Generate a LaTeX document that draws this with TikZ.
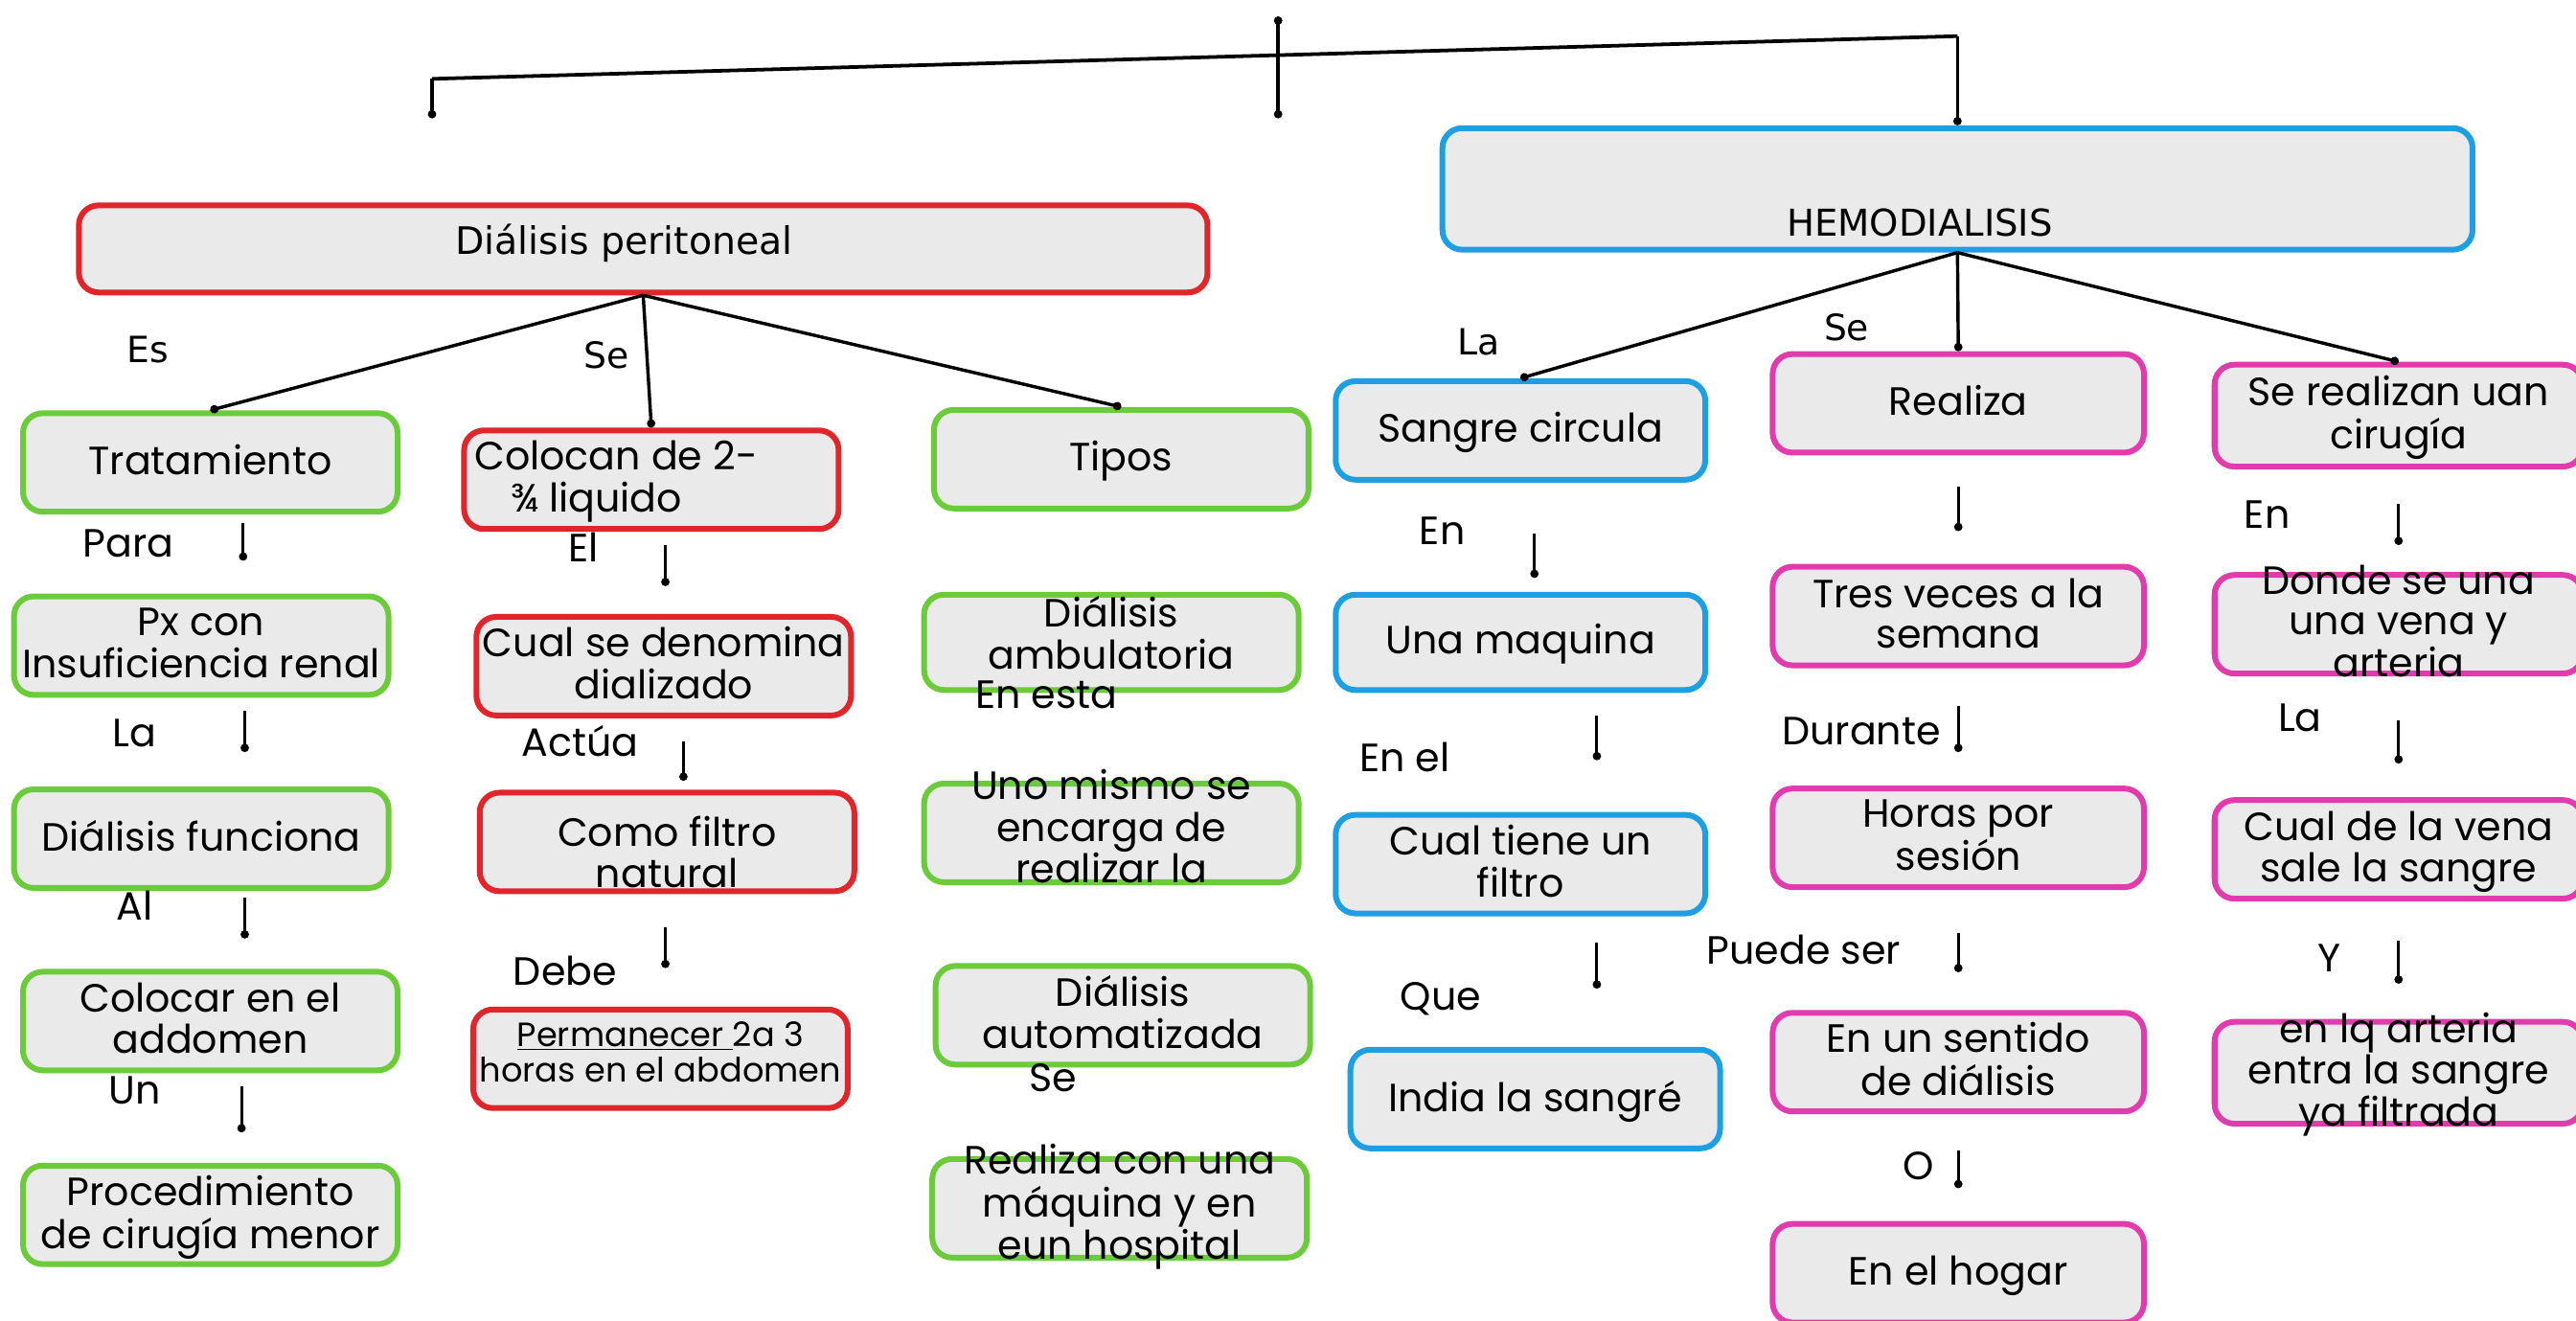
\documentclass[tikz,border=0pt]{standalone}
\usepackage{fontspec}
\setmainfont{Poppins}
\newfontfamily\dvs{DejaVu Sans}
\usetikzlibrary{arrows.meta,calc}
\definecolor{cgreen}{HTML}{6CCB3A}
\definecolor{cred}{HTML}{E0262B}
\definecolor{cblue}{HTML}{1E9FE2}
\definecolor{cpink}{HTML}{E03CAE}
\definecolor{boxfill}{HTML}{EAEAEA}
\newcommand\boxtxt[2][0pt]{\makebox[0pt]{\raisebox{\dimexpr-8pt-#1\relax}[0pt][0pt]{\begin{tabular}{@{}c@{}}#2\end{tabular}}}}
\tikzset{
  box/.style={draw, rounded corners=12pt, fill=boxfill, line width=3.5pt,
    inner sep=0pt, align=center, minimum height=60pt,
    font=\fontsize{24}{24.5}\selectfont},
  gbox/.style={box, draw=cgreen, minimum width=228pt},
  rbox/.style={box, draw=cred, minimum width=228pt},
  bbox/.style={box, draw=cblue, minimum width=225pt},
  pbox/.style={box, draw=cpink, minimum width=226pt},
  conn/.style={line width=2pt, -{Circle[length=5pt,width=5pt]}},
  vconn/.style={line width=1.8pt, -{Circle[length=5pt,width=5pt]}},
  plain/.style={line width=2.2pt},
  lbl/.style={inner sep=0pt, font=\fontsize{24}{24}\selectfont},
  dlbl/.style={inner sep=0pt, font=\dvs\fontsize{22}{24}\selectfont},
}
\begin{document}
\begin{tikzpicture}[x=1pt,y=-1pt]
\useasboundingbox[fill=white] (0,0) rectangle (1568,804);

% main boxes
\node[box, draw=cred, minimum width=687pt, minimum height=53pt, font=\dvs\fontsize{23}{26}\selectfont]
  (dp) at (391.5,151.5) {\boxtxt[-4pt]{Diálisis peritoneal\hspace*{23pt}}};
\node[box, draw=cblue, minimum width=627pt, text height=57pt, text depth=15pt, minimum height=74pt,
  font=\dvs\fontsize{22.5}{24}\selectfont]
  (hemo) at (1191.5,115) {\boxtxt{HEMODIALISIS\hspace*{46pt}}};

% left green column
\node[gbox] (trat) at (128,281.5) {\boxtxt{Tratamiento}};
\node[gbox] (px) at (122.5,393) {\boxtxt{Px con\\Insuficiencia renal}};
\node[gbox] (func) at (122.5,510.5) {\boxtxt{Diálisis funciona}};
\node[gbox] (colocar) at (128,621.5) {\boxtxt{Colocar en el\\addomen}};
\node[gbox] (proc) at (128,739.5) {\boxtxt{Procedimiento\\de cirugía menor}};

% red column
\node[rbox] (colocan) at (396.5,292)
  {\makebox[0pt]{\raisebox{-8pt}[0pt][0pt]{\begin{tabular}{@{}l@{}}Colocan de 2-\\\hspace*{22pt}¾ liquido\end{tabular}}\hspace*{43pt}}};
\node[rbox] (cual) at (404,405.5) {\boxtxt{Cual se denomina\\dializado}};
\node[rbox] (filtro) at (406,512.5) {\boxtxt[8pt]{Como filtro\\natural}};
\node[rbox, font=\fontsize{20.5}{20}\selectfont] (perm) at (402,644.5)
  {\boxtxt[-4pt]{\underline{Permanecer }2a 3\\horas en el abdomen}};

% green tipos column
\node[gbox] (tipos) at (682.5,279.5) {\boxtxt{Tipos}};
\node[gbox, minimum height=58pt] (amb) at (676.5,391) {\boxtxt[-4pt]{Diálisis\\ambulatoria}};
\node[gbox] (uno) at (676.5,507) {\boxtxt[-2pt]{Uno mismo se\\encarga de\\realizar la}};
\node[gbox] (auto) at (683.5,618) {\boxtxt{Diálisis\\automatizada}};
\node[gbox] (maq) at (681.5,735.5) {\boxtxt[-2pt]{Realiza con una\\máquina y en\\eun hospital}};

% blue column
\node[bbox] (sangre) at (925.5,262) {\boxtxt{Sangre circula}};
\node[bbox, minimum height=58pt] (una) at (925.5,391) {\boxtxt{Una maquina}};
\node[bbox] (cualtiene) at (925.5,526) {\boxtxt{Cual tiene un\\filtro}};
\node[bbox] (india) at (934.5,669) {\boxtxt{India la sangré}};

% pink column
\node[pbox] (realiza) at (1192,245.5) {\boxtxt{Realiza}};
\node[pbox] (tres) at (1192,375) {\boxtxt{Tres veces a la\\semana}};
\node[pbox] (horas) at (1192,510) {\boxtxt{Horas por\\sesión}};
\node[pbox] (sentido) at (1192,646.5) {\boxtxt{En un sentido\\de diálisis}};
\node[pbox] (hogar) at (1192,775) {\boxtxt{En el hogar}};

% right pink column
\node[pbox, minimum width=224pt, minimum height=62pt] (serealizan) at (1460,253) {\boxtxt{Se realizan uan\\cirugía}};
\node[pbox, minimum width=224pt] (donde) at (1460,380) {\boxtxt{Donde se una\\una vena y\\arteria}};
\node[pbox, minimum width=224pt] (cualvena) at (1460,517) {\boxtxt{Cual de la vena\\sale la sangre}};
\node[pbox, minimum width=224pt, minimum height=62pt] (arteria) at (1460,653) {\boxtxt{en lq arteria\\entra la sangre\\ya filtrada}};

% top connectors
\coordinate (tickT) at (778,10);
\coordinate (tickB) at (778,72);
\coordinate (lcorner) at (263,48);
\coordinate (lend) at (263,72);
\coordinate (rtop) at (1191.5,22);
\draw[plain, {Circle[length=5pt,width=5pt]}-{Circle[length=5pt,width=5pt]}] (tickT) -- (tickB);
\draw[plain] (lcorner) -- (rtop);
\draw[conn] (lcorner) -- (lend);
\draw[conn] (rtop) -- (hemo.north);

% branches
\draw[conn] (dp.south) -- (trat.north);
\draw[conn] (dp.south) -- (colocan.north);
\draw[conn] (dp.south) -- (tipos.north);
\draw[conn] (hemo.south) -- (sangre.north);
\draw[conn] (hemo.south) -- (realiza.north);
\draw[conn] (hemo.south) -- (serealizan.north);

% short vertical arrows
\draw[vconn] ($(trat.south)+(20,5)$) -- ++(0,23);
\draw[vconn] ($(px.south)+(26.5,8)$) -- ++(0,25);
\draw[vconn] ($(func.south)+(26.5,4)$) -- ++(0,25);
\draw[vconn] ($(colocar.south)+(19,8)$) -- ++(0,28);
\draw[vconn] ($(colocan.south)+(8.5,8)$) -- ++(0,25);
\draw[vconn] ($(cual.south)+(12,14)$) -- ++(0,24);
\draw[vconn] ($(filtro.south)+(-1,20)$) -- ++(0,25);
\draw[vconn] ($(sangre.south)+(8.5,31)$) -- ++(0,27);
\draw[vconn] ($(una.south)+(46.5,14)$) -- ++(0,27);
\draw[vconn] ($(cualtiene.south)+(46.5,16)$) -- ++(0,28);
\draw[vconn] ($(realiza.south)+(0,19)$) -- ++(0,27);
\draw[vconn] ($(tres.south)+(0,23)$) -- ++(0,28);
\draw[vconn] ($(horas.south)+(0,26)$) -- ++(0,24);
\draw[vconn] ($(sentido.south)+(0,22)$) -- ++(0,23);
\draw[vconn] ($(serealizan.south)+(0,21)$) -- ++(0,25);
\draw[vconn] ($(donde.south)+(0,27)$) -- ++(0,26);
\draw[vconn] ($(cualvena.south)+(0,24)$) -- ++(0,26);

% labels
\node[dlbl] (lEs) at (90,213) {Es};
\node[dlbl] (lSe1) at (369,216) {Se};
\node[dlbl] (lLa1) at (900,208) {La};
\node[dlbl] (lSe2) at (1124,199) {Se};
\node[lbl] (lPara) at (78,331) {Para};
\node[lbl] (lLa2) at (82,446) {La};
\node[lbl] (lAl) at (82,551) {Al};
\node[lbl] (lUn) at (82,664) {Un};
\node[lbl] (lEl) at (355,333) {El};
\node[lbl] (lActua) at (353,451) {Actúa};
\node[lbl] (lDebe) at (344,591) {Debe};
\node[lbl] (lEnesta) at (637,423) {En esta};
\node[lbl] (lSe3) at (641,656) {Se};
\node[lbl] (lEn1) at (878,323) {En};
\node[lbl] (lEnel) at (855,461) {En el};
\node[lbl] (lQue) at (877,608) {Que};
\node[lbl] (lDurante) at (1133,445) {Durante};
\node[lbl] (lPuede) at (1098,578) {Puede ser};
\node[lbl] (lO) at (1168,710) {O};
\node[lbl] (lEn2) at (1380,313) {En};
\node[lbl] (lLa3) at (1400,437) {La};
\node[lbl] (lY) at (1418,583) {Y};
\end{tikzpicture}
\end{document}
